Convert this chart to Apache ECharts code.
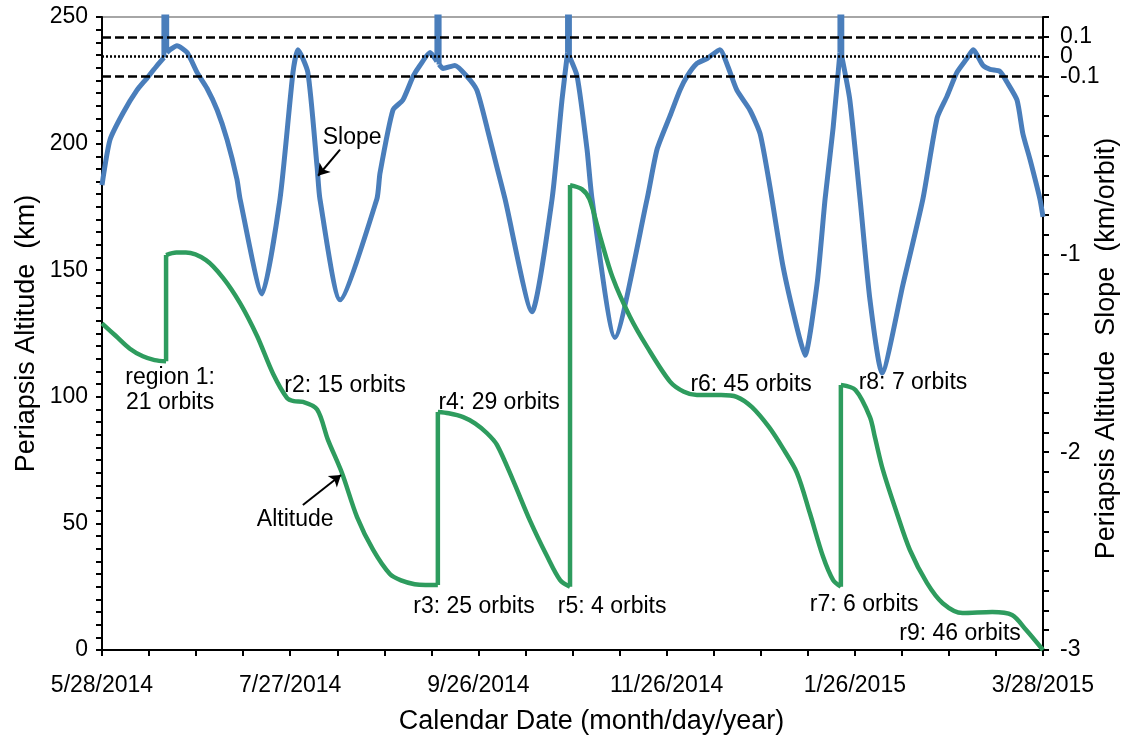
<!DOCTYPE html>
<html>
<head>
<meta charset="utf-8">
<script src="https://cdn.jsdelivr.net/npm/echarts@6/dist/echarts.min.js"></script>
<style>
  html, body { margin: 0; padding: 0; background: #fff; }
  #chart { width: 1125px; height: 742px; }
</style>
</head>
<body>
<div id="chart"></div>
<script>
// x values are days after 5/28/2014
const dateLabels = ["5/28/2014", "7/27/2014", "9/26/2014", "11/26/2014", "1/26/2015", "3/28/2015"];
const dateStep = 60.8;
const totalDays = 304;

// periapsis altitude (km); repeated days are the jumps
const altDay = [0, 4.5, 9.0, 13.2, 17.0, 20.7, 20.7, 24.0, 27.1, 33.6, 39.1, 44.6, 50.1, 55.3, 59.8, 62.0, 64.9, 69.5, 73.0, 77.5,
  82.4, 87.6, 93.0, 96.6, 101.0, 104.5, 108.5, 108.5, 112.0, 116.7, 120.5, 124.4, 127.6, 132.8, 138.3, 143.8, 148.0, 151.2, 151.2,
  155.0, 157.5, 161.0, 165.0, 170.6, 176.1, 183.5, 188.0, 192.2, 200.0, 205.0, 209.9, 215.5, 219.8, 224.5, 228.7, 232.9, 236.2,
  238.7, 238.7, 243.4, 248.1, 249.7, 252.3, 256.8, 261.0, 266.5, 271.6, 278.0, 287.6, 294.0, 298.5, 304];
const altKm = [129, 124, 119, 116, 114.5, 114, 156, 157, 157, 154, 147, 137, 124, 109, 99.5, 98.3, 98, 95, 83, 70,
  52.5, 39.5, 30, 27.5, 26, 25.7, 25.7, 94, 93.5, 92, 89.5, 85.6, 81, 67, 51, 37, 27.6, 25, 183.6,
  182, 178, 163, 147, 131.5, 119.7, 106, 102, 100.7, 100.7, 100, 96, 88, 80, 70, 54, 37, 27.6,
  25, 104.7, 102.7, 92, 84, 71, 54, 39.5, 26.5, 18.5, 14.6, 15, 13.8, 8, 0];

// altitude slope (km/orbit), blue curve; the spikes run off the top of the axis
const slopeDay = [0, 2.6, 6.8, 11.3, 14.5, 17.8, 20.0, 20.0, 20.9, 20.9, 22.0, 24.2, 27.5, 30.7, 33.9, 37.2, 40.4, 43.6, 44.6,
  51.7, 57.5, 61.7, 63.3, 66.5, 69.5, 70.4, 76.9, 88.8, 89.8, 94.0, 97.2, 100.5, 102.7, 106.0, 108.2, 108.2, 108.9, 108.9,
  110.2, 114.0, 117.9, 121.1, 124.4, 127.6, 130.2, 138.9, 145.4, 148.6, 150.4, 150.4, 151.0, 151.0, 153.5, 156.7, 158.3,
  165.7, 176.1, 179.3, 183.5, 186.7, 189.0, 192.2, 195.5, 199.6, 202.2, 205.1, 209.3, 212.6, 215.8, 220.0, 224.5, 227.1,
  231.0, 233.6, 236.2, 238.4, 238.4, 239.0, 239.0, 241.6, 244.9, 248.1, 252.0, 258.8, 265.2, 269.8, 273.0, 276.2, 279.4,
  281.4, 284.6, 286.9, 290.1, 292.4, 295.6, 297.5, 299.8, 303.0, 304];
const slopeRate = [-0.65, -0.42, -0.285, -0.17, -0.11, -0.045, -0.005, 1, 1, 0.02, 0.035, 0.055, 0.02, -0.08, -0.16, -0.27, -0.42, -0.62, -0.72,
  -1.20, -0.72, -0.08, 0.035, -0.08, -0.56, -0.72, -1.23, -0.72, -0.59, -0.27, -0.22, -0.10, -0.045, 0.02, -0.025, 1, 1, -0.04,
  -0.06, -0.045, -0.10, -0.17, -0.36, -0.56, -0.72, -1.29, -0.72, -0.22, 0.02, 1, 1, 0.0, -0.10, -0.47, -0.72,
  -1.42, -0.72, -0.47, -0.30, -0.17, -0.10, -0.035, -0.01, 0.035, -0.05, -0.17, -0.27, -0.39, -0.66, -1.06, -1.37, -1.51,
  -1.15, -0.72, -0.36, 0.02, 1, 1, 0.0, -0.22, -0.72, -1.23, -1.60, -1.15, -0.72, -0.31, -0.20, -0.08, -0.01,
  0.035, -0.045, -0.065, -0.075, -0.13, -0.22, -0.39, -0.52, -0.72, -0.81];

const slopeTickLabels = [-3, -2, -1, -0.1, 0, 0.1];
const dashedLevels = [0.1, -0.1];
const dottedLevels = [0];

// region labels, placed in (day, km)
const notes = [
  { text: "region 1:\n21 orbits", at: [22.0, 102.7] },
  { text: "r2: 15 orbits", at: [78.5, 104.3] },
  { text: "r3: 25 orbits", at: [120.2, 17] },
  { text: "r4: 29 orbits", at: [128.3, 97.5] },
  { text: "r5: 4 orbits", at: [164.8, 17] },
  { text: "r6: 45 orbits", at: [209.7, 104.7] },
  { text: "r7: 6 orbits", at: [246.2, 17.8] },
  { text: "r8: 7 orbits", at: [262.0, 105.5] },
  { text: "r9: 46 orbits", at: [277.2, 6.3] },
  { text: "Slope", at: [80.8, 202.2] },
  { text: "Altitude", at: [62.4, 51.3] }
];
const arrows = [
  [[76.9, 197.6], [69.8, 187.3]],
  [[64.9, 57.3], [77.2, 69.1]]
];

const FONT = "Liberation Sans, Arial, sans-serif";
const BLUE = "#4a7ebb";
const GREEN = "#2e9c5e";

// split a trace where two points share a day: smooth pieces + straight vertical jumps
function splitTrace(xs, ys) {
  const curve = [];
  const jumps = [];
  for (let i = 0; i < xs.length; i++) {
    curve.push([xs[i], ys[i]]);
    if (i + 1 < xs.length && xs[i + 1] === xs[i]) {
      curve.push([xs[i], null]);
      jumps.push([xs[i], ys[i]], [xs[i], ys[i + 1]], [xs[i], null]);
    }
  }
  return { curve, jumps };
}

const alt = splitTrace(altDay, altKm);
const slope = splitTrace(slopeDay, slopeRate);

const chart = echarts.init(document.getElementById("chart"));

const axisBlack = { color: "#000", width: 2 };

const option = {
  animation: false,
  textStyle: { fontFamily: FONT, color: "#000" },
  grid: {
    left: 102, right: 82, top: 17, bottom: 92,
    containLabel: false,
    outerBoundsMode: "none",
    show: true, borderColor: "#a6a6a6", borderWidth: 2
  },
  xAxis: {
    type: "value",
    min: 0,
    max: totalDays,
    interval: dateStep,
    name: "Calendar Date (month/day/year)",
    nameLocation: "middle",
    nameGap: 58,
    nameMoveOverlap: false,
    nameTextStyle: { fontSize: 27, color: "#000", fontFamily: FONT, padding: [0, 0, 0, 38] },
    axisLine: { lineStyle: axisBlack },
    axisTick: { length: 6, lineStyle: axisBlack },
    minorTick: { show: true, splitNumber: 4, length: 6, lineStyle: axisBlack },
    splitLine: { show: false },
    axisLabel: {
      fontSize: 23, color: "#000", margin: 24,
      formatter: (v) => dateLabels[Math.round(v / dateStep)] || ""
    }
  },
  yAxis: [
    {
      type: "value",
      min: 0,
      max: 250,
      interval: 50,
      name: "Periapsis Altitude  (km)",
      nameLocation: "middle",
      nameGap: 62,
      nameMoveOverlap: false,
      nameTextStyle: { fontSize: 27, color: "#000", fontFamily: FONT },
      axisLine: { show: true, lineStyle: axisBlack },
      axisTick: { show: true, length: 6, lineStyle: axisBlack },
      minorTick: { show: true, splitNumber: 10, length: 6, lineStyle: axisBlack },
      splitLine: { show: false },
      axisLabel: { fontSize: 23, color: "#000", margin: 14 }
    },
    {
      type: "value",
      position: "right",
      min: -3,
      max: 0.2,
      interval: 0.1,
      name: "Periapsis Altitude  Slope  (km/orbit)",
      nameLocation: "middle",
      nameGap: 50,
      nameMoveOverlap: false,
      nameTextStyle: { fontSize: 27, color: "#000", fontFamily: FONT, padding: [0, 30, 0, 0] },
      axisLine: { show: true, lineStyle: axisBlack },
      axisTick: { show: true, length: 6, lineStyle: axisBlack },
      splitLine: { show: false },
      axisLabel: {
        fontSize: 23, color: "#000", margin: 17,
        formatter: (v) => {
          const r = Math.round(v * 10) / 10;
          return slopeTickLabels.includes(r) ? String(r) : "";
        }
      }
    }
  ],
  series: [
    {
      name: "Slope",
      type: "line",
      yAxisIndex: 1,
      data: slope.curve,
      showSymbol: false,
      smooth: 0.2,
      lineStyle: { color: BLUE, width: 5, join: "round" },
      markLine: {
        silent: true,
        symbol: "none",
        label: { show: false },
        data: [
          ...dashedLevels.map((y) => ({ yAxis: y, lineStyle: { color: "#000", width: 2.5, type: [9, 4] } })),
          ...dottedLevels.map((y) => ({ yAxis: y, lineStyle: { color: "#000", width: 2.5, type: [2, 2] } }))
        ]
      },
      z: 2
    },
    {
      name: "Slope jumps",
      type: "line",
      yAxisIndex: 1,
      data: slope.jumps,
      showSymbol: false,
      lineStyle: { color: BLUE, width: 5 },
      z: 2
    },
    {
      name: "Altitude",
      type: "line",
      yAxisIndex: 0,
      data: alt.curve,
      showSymbol: false,
      smooth: 0.3,
      lineStyle: { color: GREEN, width: 4.5, join: "round" },
      markPoint: {
        silent: true,
        symbol: "circle",
        symbolSize: 1,
        itemStyle: { color: "transparent" },
        label: {
          show: true,
          position: "inside",
          fontSize: 23,
          lineHeight: 25,
          color: "#000",
          fontFamily: FONT,
          formatter: (p) => p.name
        },
        data: notes.map((n) => ({ name: n.text, coord: n.at }))
      },
      markLine: {
        silent: true,
        symbol: ["none", "arrow"],
        symbolSize: 11,
        label: { show: false },
        lineStyle: { color: "#000", width: 2, type: "solid" },
        data: arrows.map(([a, b]) => [{ coord: a }, { coord: b }])
      },
      z: 3
    },
    {
      name: "Altitude jumps",
      type: "line",
      yAxisIndex: 0,
      data: alt.jumps,
      showSymbol: false,
      lineStyle: { color: GREEN, width: 4.5 },
      z: 3
    }
  ]
};

chart.setOption(option);
</script>
</body>
</html>
